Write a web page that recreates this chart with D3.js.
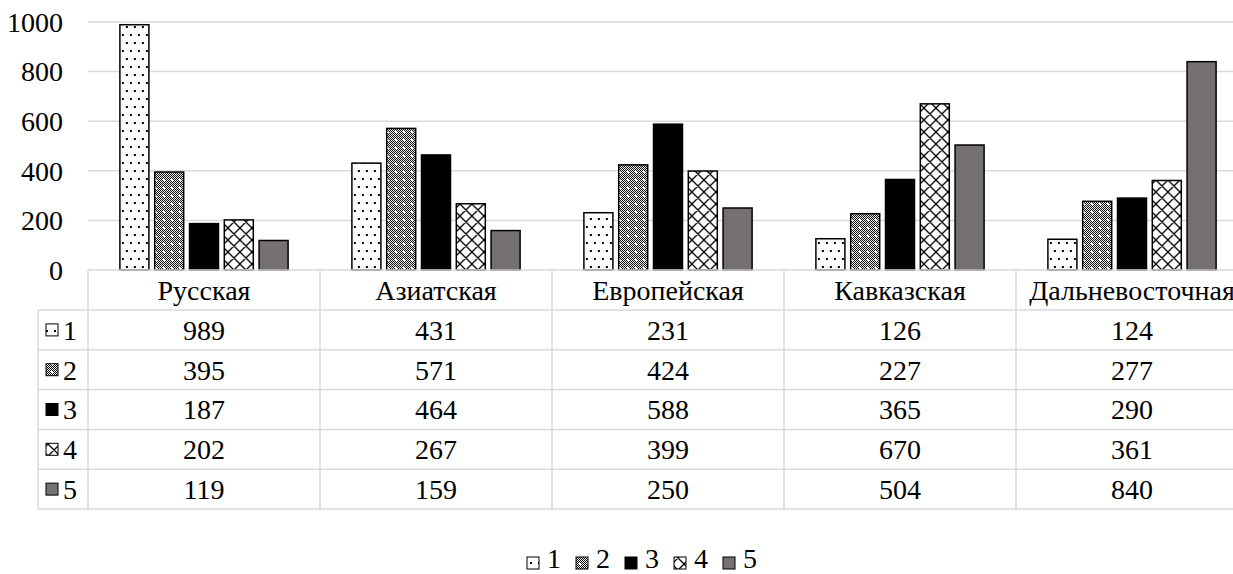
<!DOCTYPE html>
<html>
<head>
<meta charset="utf-8">
<script src="https://cdn.jsdelivr.net/npm/d3@7"></script>
</head>
<body style="margin:0">
<svg id="chart" width="1233" height="574"></svg>
<script>
// Categories and series
const categories = ["Русская", "Азиатская", "Европейская", "Кавказская", "Дальневосточная"];
const seriesNames = ["1", "2", "3", "4", "5"];
const s1 = [989, 431, 231, 126, 124];
const s2 = [395, 571, 424, 227, 277];
const s3 = [187, 464, 588, 365, 290];
const s4 = [202, 267, 399, 670, 361];
const s5 = [119, 159, 250, 504, 840];
const seriesValues = [s1, s2, s3, s4, s5];
const yTicks = [0, 200, 400, 600, 800, 1000];

const svg = d3.select("#chart");
const W = 1233, H = 574;
const faces = ["Liberation Serif", "Times New Roman"];
const faceList = faces.map(f => `"${f}"`).join(", ");

// applies the serif face to a text selection
function serif(sel) {
  return sel.style("font-family", faceList).attr("font-size", 28);
}

// ---- fill patterns ----
const defs = svg.append("defs");

// 1: sparse dots
const p1 = defs.append("pattern").attr("id", "fill1").attr("patternUnits", "userSpaceOnUse")
  .attr("width", 16).attr("height", 16);
p1.append("rect").attr("width", 16).attr("height", 16).attr("fill", "#fff");
[[3, 3], [11, 3], [7, 11], [15, 11]].forEach(([x, y]) =>
  p1.append("rect").attr("x", x - 1).attr("y", y - 1).attr("width", 2).attr("height", 2).attr("fill", "#000"));

// 2: dense checker with light spots
const p2 = defs.append("pattern").attr("id", "fill2").attr("patternUnits", "userSpaceOnUse")
  .attr("width", 8).attr("height", 8);
p2.append("rect").attr("width", 8).attr("height", 8).attr("fill", "#fff");
for (let i = 0; i < 8; i++) for (let j = 0; j < 8; j++) {
  const inSpot = (i >= 3 && i <= 4 && j >= 3 && j <= 4);
  if (((i + j) % 2 === 0 || (i % 2 === 1 && j % 4 === 1)) && !inSpot)
    p2.append("rect").attr("x", i).attr("y", j).attr("width", 1).attr("height", 1).attr("fill", "#000");
}

// 4: diagonal cross hatch
const p4 = defs.append("pattern").attr("id", "fill4").attr("patternUnits", "userSpaceOnUse")
  .attr("width", 12).attr("height", 12);
p4.append("rect").attr("width", 12).attr("height", 12).attr("fill", "#fff");
p4.append("path").attr("d", "M0,0 L12,12 M12,0 L0,12 M-1,11 L1,13 M11,-1 L13,1 M11,13 L13,11 M-1,1 L1,-1")
  .attr("stroke", "#000").attr("stroke-width", 1.3);

const fills = ["url(#fill1)", "url(#fill2)", "#000", "url(#fill4)", "#767171"];

// ---- scales ----
const x0 = d3.scaleBand().domain(categories).range([88, 88 + 5 * 232]).paddingInner(0).paddingOuter(0);
const groupW = x0.bandwidth() * 5.8 / 8;
const x1 = d3.scaleBand().domain(seriesNames).range([0, groupW]).paddingInner(0.2 / 1.2).paddingOuter(0);
const y = d3.scaleLinear().domain([0, 1000]).range([270, 22]);

const gridColor = "#d9d9d9";

// gridlines
svg.append("g").selectAll("line").data(yTicks.filter(t => t > 0)).join("line")
  .attr("x1", 88).attr("x2", W)
  .attr("y1", d => y(d)).attr("y2", d => y(d))
  .attr("stroke", gridColor).attr("stroke-width", 1.5);

// y axis labels, written as plain text elements
svg.append("g").selectAll("text").data(yTicks).join("text")
  .attr("x", 63).attr("y", d => y(d)).attr("dy", "0.35em")
  .attr("text-anchor", "end").text(d3.format("d"))
  .call(serif);

// bars
const groups = svg.append("g").selectAll("g").data(categories).join("g")
  .attr("transform", d => `translate(${x0(d) + (x0.bandwidth() - groupW) / 2},0)`);
groups.selectAll("rect")
  .data((c, ci) => seriesNames.map((s, si) => ({ s, si, v: seriesValues[si][ci] })))
  .join("rect")
  .attr("x", d => x1(d.s))
  .attr("width", x1.bandwidth())
  .attr("y", d => y(d.v))
  .attr("height", d => y(0) - y(d.v))
  .attr("fill", d => fills[d.si])
  .attr("stroke", "#000").attr("stroke-width", 1.5);

// ---- data table ----
const rowH = 39.8;
const tableTop = 270;
const headerBottom = tableTop + 40;
const tableBottom = headerBottom + rowH * 5;
const keyLeft = 38;
const tbl = svg.append("g");

// header top line and row lines
tbl.append("line").attr("x1", 88).attr("x2", W).attr("y1", tableTop).attr("y2", tableTop)
  .attr("stroke", gridColor).attr("stroke-width", 1.5);
d3.range(6).forEach(i => {
  const yy = headerBottom + i * rowH;
  tbl.append("line").attr("x1", keyLeft).attr("x2", W).attr("y1", yy).attr("y2", yy)
    .attr("stroke", gridColor).attr("stroke-width", 1.5);
});
// vertical lines
tbl.append("line").attr("x1", keyLeft).attr("x2", keyLeft).attr("y1", headerBottom).attr("y2", tableBottom)
  .attr("stroke", gridColor).attr("stroke-width", 1.5);
categories.forEach(c => {
  tbl.append("line").attr("x1", x0(c)).attr("x2", x0(c)).attr("y1", tableTop).attr("y2", tableBottom)
    .attr("stroke", gridColor).attr("stroke-width", 1.5);
});

// header labels
tbl.selectAll("text.hdr").data(categories).join("text").attr("class", "hdr")
  .attr("x", d => x0(d) + x0.bandwidth() / 2).attr("y", (tableTop + headerBottom) / 2).attr("dy", "0.35em")
  .attr("text-anchor", "middle").text(d => d)
  .call(serif);

// row keys and values
seriesNames.forEach((s, si) => {
  const cy = headerBottom + si * rowH + rowH / 2;
  tbl.append("rect").attr("x", 46).attr("y", cy - 6).attr("width", 12).attr("height", 12)
    .attr("fill", fills[si]).attr("stroke", "#000").attr("stroke-width", 1);
  tbl.append("text").attr("x", 63).attr("y", cy).attr("dy", "0.35em").text(s).call(serif);
  categories.forEach((c, ci) => {
    tbl.append("text").attr("x", x0(c) + x0.bandwidth() / 2).attr("y", cy).attr("dy", "0.35em")
      .attr("text-anchor", "middle").text(seriesValues[si][ci]).call(serif);
  });
});

// ---- legend ----
const legend = svg.append("g");
const legStep = 49;
const legStart = 527;
seriesNames.forEach((s, si) => {
  const gx = legStart + si * legStep;
  legend.append("rect").attr("x", gx).attr("y", 557).attr("width", 12).attr("height", 12)
    .attr("fill", fills[si]).attr("stroke", "#000").attr("stroke-width", 1);
  legend.append("text").attr("x", gx + 20).attr("y", 568).text(s).call(serif);
});
</script>
</body>
</html>
